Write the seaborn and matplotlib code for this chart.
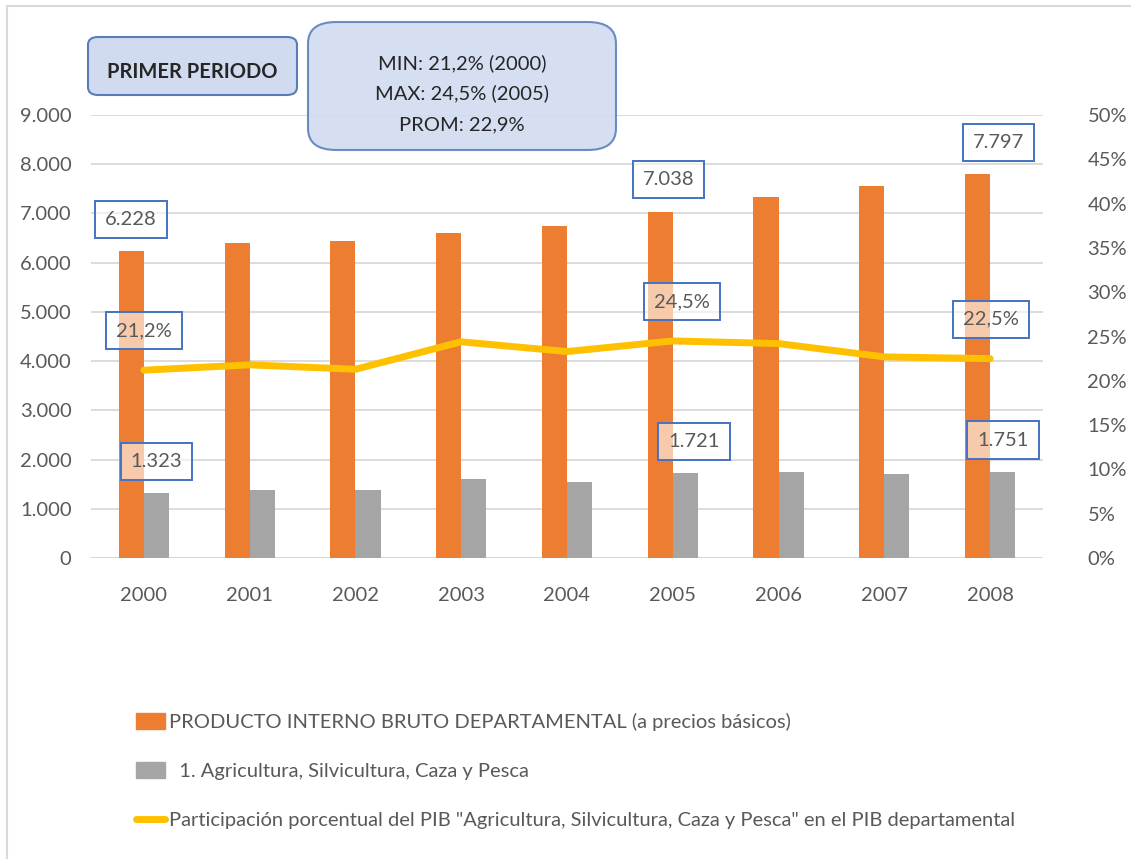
import matplotlib
matplotlib.use("Agg")
import matplotlib.pyplot as plt
import matplotlib.patches as mpatches
from matplotlib.lines import Line2D
import seaborn as sns
import pandas as pd

# ---- data ----
years = ["2000", "2001", "2002", "2003", "2004", "2005", "2006", "2007", "2008"]
pib_dep = [6228, 6400, 6450, 6610, 6750, 7038, 7330, 7550, 7797]
pib_agro = [1323, 1380, 1375, 1600, 1550, 1721, 1750, 1700, 1751]
participacion = [21.2, 21.8, 21.3, 24.4, 23.3, 24.5, 24.2, 22.7, 22.5]

label_dep = "PRODUCTO INTERNO BRUTO DEPARTAMENTAL (a precios básicos)"
label_agro = "  1. Agricultura, Silvicultura, Caza y Pesca"
label_part = 'Participación porcentual del PIB "Agricultura, Silvicultura, Caza y Pesca" en el PIB departamental'
left_ticks = [0, 1000, 2000, 3000, 4000, 5000, 6000, 7000, 8000, 9000]
right_ticks = [0, 5, 10, 15, 20, 25, 30, 35, 40, 45, 50]
box1_text = "PRIMER PERIODO"
box2_lines = ["MIN: 21,2% (2000)", "MAX: 24,5% (2005)", "PROM: 22,9%"]

ORANGE = "#ED7D31"
GRAY = "#A5A5A5"
YELLOW = "#FFC000"
TXT = "#595959"
GRID = "#D9D9D9"
LBL_EDGE = "#4472C4"
FS = 14.5

sns.set_theme(style="white")
plt.rcParams["font.family"] = ["Lato", "DejaVu Sans"]

fig = plt.figure(figsize=(11.31, 8.59), dpi=100)
W, H = 1131, 859
ax = fig.add_axes([91 / W, 1 - 558 / H, (1043 - 91) / W, (558 - 115) / H])

df = pd.DataFrame({
    "year": years * 2,
    "value": pib_dep + pib_agro,
    "serie": [label_dep] * len(years) + [label_agro] * len(years),
})
sns.barplot(data=df, x="year", y="value", hue="serie", order=years,
            hue_order=[label_dep, label_agro], palette=[ORANGE, GRAY],
            width=0.474, saturation=1, ax=ax, legend=False, zorder=2,
            linewidth=0, edgecolor="none")

ax.set_xlim(-0.5, len(years) - 0.5)
ax.set_ylim(0, 9000)
ax.set_yticks(left_ticks)
ax.set_yticklabels([f"{v:,.0f}".replace(",", ".") for v in left_ticks])
ax.yaxis.grid(True, color=GRID, lw=1.3, zorder=0)
ax.set_axisbelow(True)
for s in ax.spines.values():
    s.set_visible(False)
ax.axhline(0, color=GRID, lw=1.5, zorder=1)
ax.set_xlabel("")
ax.set_ylabel("")
ax.tick_params(axis="y", length=0, pad=14, labelsize=FS, labelcolor=TXT)
ax.tick_params(axis="x", length=0, pad=21, labelsize=FS, labelcolor=TXT)

ax2 = ax.twinx()
lp = pd.DataFrame({"year": list(range(len(years))), "pct": participacion})
sns.lineplot(data=lp, x="year", y="pct", color=YELLOW, lw=5, ax=ax2,
             legend=False, zorder=3)
ax2.set_ylim(0, 50)
ax2.set_yticks(right_ticks)
ax2.set_yticklabels([f"{v}%" for v in right_ticks])
ax2.set_xlim(-0.5, len(years) - 0.5)
for s in ax2.spines.values():
    s.set_visible(False)
ax2.set_ylabel("")
ax2.set_xlabel("")
ax2.grid(False)
ax2.tick_params(axis="y", length=0, pad=32, labelsize=FS, labelcolor=TXT)

bbox_lbl = dict(boxstyle="square,pad=0.5", fc=(1, 1, 1, 0.6), ec=LBL_EDGE, lw=1.4)

def fmt_n(v):
    return f"{v:,.0f}".replace(",", ".")

def fmt_p(v):
    return f"{v:.1f}%".replace(".", ",")

# data labels for 2000, 2005, 2008
for i, dx in [(0, -0.12), (5, -0.04), (8, 0.08)]:
    ax.text(i + dx, pib_dep[i] + 650, fmt_n(pib_dep[i]), ha="center", va="center",
            fontsize=FS, color=TXT, bbox=bbox_lbl, zorder=5)
for i, dx in [(0, 0.12), (5, 0.2), (8, 0.12)]:
    ax.text(i + dx, pib_agro[i] + 645, fmt_n(pib_agro[i]), ha="center", va="center",
            fontsize=FS, color=TXT, bbox=bbox_lbl, zorder=5)
for i, dx in [(0, 0.0), (5, 0.09), (8, 0.01)]:
    ax2.text(i + dx, participacion[i] + 4.45, fmt_p(participacion[i]), ha="center",
             va="center", fontsize=FS, color=TXT, bbox=bbox_lbl, zorder=5)

# header boxes
BOX_FC = "#D0DBF0"
BOX_EC = "#5A7DB8"
b1 = mpatches.FancyBboxPatch((88 / W, 1 - 95 / H), (297 - 88) / W, (95 - 37) / H,
                             boxstyle="round,pad=0,rounding_size=0.009",
                             transform=fig.transFigure, fc=BOX_FC, ec=BOX_EC, lw=1.5,
                             zorder=10)
fig.add_artist(b1)
fig.text((88 + 297) / 2 / W, 1 - 72 / H, box1_text, ha="center", va="center",
         fontsize=FS, fontweight="bold", color="#262626", zorder=11)
b2 = mpatches.FancyBboxPatch((308 / W, 1 - 150 / H), (616 - 308) / W, (150 - 22) / H,
                             boxstyle="round,pad=0,rounding_size=0.025",
                             transform=fig.transFigure, fc=BOX_FC, ec=BOX_EC, lw=1.5,
                             alpha=0.88, zorder=10)
fig.add_artist(b2)
for yy, t in zip([63, 93, 125], box2_lines):
    fig.text((308 + 616) / 2 / W, 1 - yy / H, t, ha="center", va="center",
             fontsize=FS, color="#262626", zorder=11)

# legend
handles = [
    mpatches.Patch(color=ORANGE, label=label_dep),
    mpatches.Patch(color=GRAY, label=label_agro),
    Line2D([0], [0], color=YELLOW, lw=5, label=label_part),
]
fig.legend(handles=handles, loc="upper left", bbox_to_anchor=(118 / W, 1 - 695 / H),
           frameon=False, fontsize=FS, labelcolor=TXT, labelspacing=1.55,
           handlelength=1.45, handleheight=0.8, handletextpad=0.2)

# outer frame lines
fig.add_artist(Line2D([7 / W, 7 / W], [0, 1 - 6 / H], transform=fig.transFigure,
                      color=GRID, lw=1.5))
fig.add_artist(Line2D([7 / W, 1], [1 - 6 / H, 1 - 6 / H], transform=fig.transFigure,
                      color=GRID, lw=1.5))

fig.savefig("out.png", dpi=100)
